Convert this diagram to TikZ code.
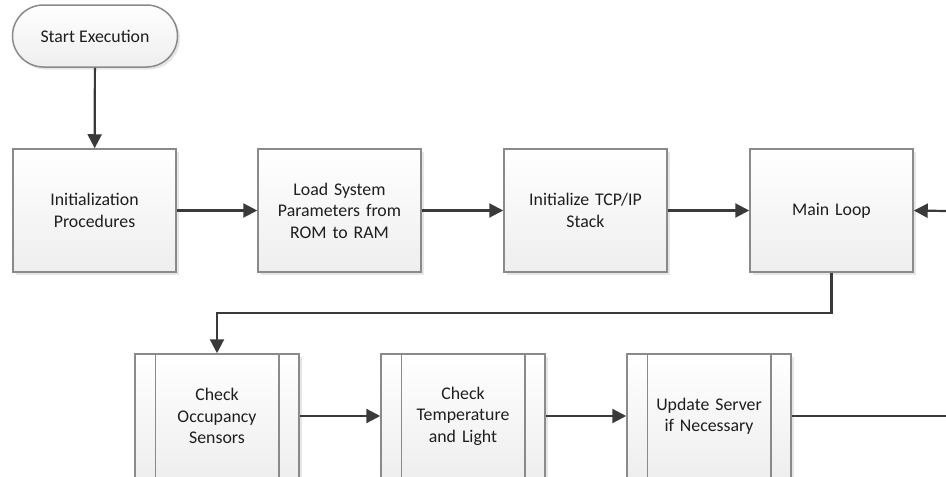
\documentclass[tikz,border=0pt]{standalone}
\usepackage{fontspec}
\setmainfont{Carlito}
\usetikzlibrary{arrows.meta,shadows,calc}
\definecolor{lineC}{HTML}{3A3A3A}
\definecolor{borderC}{HTML}{8A8A8A}
\definecolor{textC}{HTML}{1E1E1E}
\definecolor{fillB}{HTML}{EEEEEE}
\tikzset{
  boxbase/.style={draw=borderC, line width=1.5pt, top color=white, bottom color=fillB,
    text=textC, align=center, inner sep=0pt,
    font=\fontsize{17.8}{21.4}\selectfont,
    drop shadow={opacity=0.2, shadow xshift=2.5pt, shadow yshift=-2.5pt}},
  procbox/.style={boxbase, rectangle, minimum width=163pt, minimum height=123pt, text width=150pt},
  subproc/.style={boxbase, rectangle, minimum width=164pt, minimum height=124pt, text width=115pt},
  termbox/.style={boxbase, rectangle, rounded corners=31pt, minimum width=165pt, minimum height=62pt},
  flow/.style={draw=lineC, line width=2.2pt, -{Triangle[length=14pt,width=14pt]}},
  flowplain/.style={draw=lineC, line width=2.2pt},
  innerline/.style={draw=borderC, line width=1.5pt},
}
\begin{document}
\begin{tikzpicture}[x=1pt,y=-1pt]
\useasboundingbox (0,0) rectangle (946,477);
\clip (0,0) rectangle (946,477);
\node[termbox] (start) at (95,36) {Start Execution};
\node[procbox] (init) at (94.5,210.5) {Initialization\\Procedures};
\node[procbox] (load) at (339.5,210.5) {Load System\\Parameters from\\ROM to RAM};
\node[procbox] (tcp) at (585.5,210.5) {Initialize TCP/IP\\Stack};
\node[procbox] (main) at (831.5,210.5) {Main Loop};
\node[subproc] (occ) at (217,416) {Check\\Occupancy\\Sensors};
\node[subproc] (temp) at (463,416) {Check\\Temperature\\and Light};
\node[subproc] (upd) at (709,416) {Update Server\\if Necessary};
\foreach \n in {occ,temp,upd}{
  \draw[innerline] ($(\n.north west)+(21,0)$) -- ($(\n.south west)+(21,0)$);
  \draw[innerline] ($(\n.north east)+(-21,0)$) -- ($(\n.south east)+(-21,0)$);
}
\coordinate (inR) at (946,211);
\coordinate (outR) at (946,416);
\coordinate (bend) at (831.5,313);
\draw[flow] (start) -- (init);
\draw[flow] (init) -- (load);
\draw[flow] (load) -- (tcp);
\draw[flow] (tcp) -- (main);
\draw[flow] (inR) -- (main.east);
\draw[flow] (main.south) -- (bend) -| (occ.north);
\draw[flow] (occ) -- (temp);
\draw[flow] (temp) -- (upd);
\draw[flowplain] (upd.east) -- (outR);
\end{tikzpicture}
\end{document}
